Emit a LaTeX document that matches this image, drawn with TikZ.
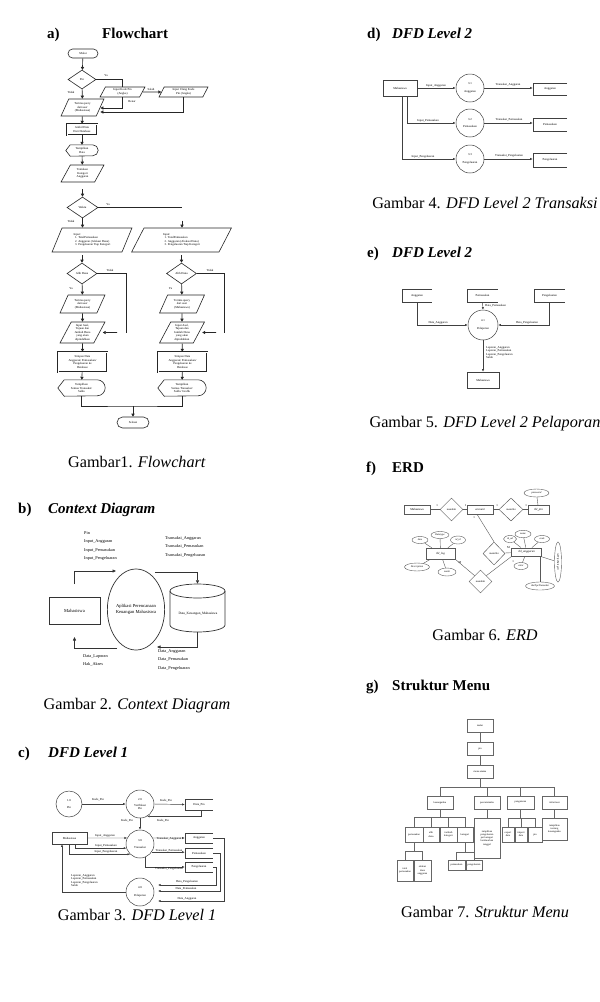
\documentclass[tikz,border=0pt]{standalone}
\usepackage{fontspec}
\setmainfont{Liberation Serif}
\usetikzlibrary{shapes.geometric,arrows.meta}
\newcommand\fcdisp[6]{%
  \node[tx, minimum width=#4pt, minimum height=#5pt] (#1) at (#2,#3) {#6};
  \draw[fcline] ([xshift=#5pt*0.4]#1.north west) -- ([xshift=-#5pt*0.5]#1.north east)
    arc[start angle=90,end angle=-90,radius=#5pt*0.5] -- ([xshift=#5pt*0.4]#1.south west) -- (#1.west) -- cycle;
}
\newcommand\openbox[1]{\draw[dline] (#1.north east) -- (#1.north west) -- (#1.south west) -- (#1.south east);}
\begin{document}
\begin{tikzpicture}[x=1pt,y=-1pt,
  hdr/.style={font=\fontsize{15}{17}\selectfont\bfseries, anchor=base west, inner sep=0},
  captxt/.style={font=\fontsize{16.2}{18}\selectfont, inner sep=0},
  tx/.style={font=\fontsize{3}{3.5}\selectfont, align=center, inner sep=0},
  lbl/.style={font=\fontsize{3}{3.5}\selectfont, inner sep=0},
  fcline/.style={line width=0.6pt, draw=black!85},
  fc/.style={draw=black!85, line width=0.6pt, tx},
  fcterm/.style={fc, rounded corners=4.5pt},
  fcdec/.style={fc, diamond},
  fcio/.style={fc, trapezium, trapezium left angle=65, trapezium right angle=115, trapezium stretches=true},
  fcproc/.style={fc, double, double distance=0.6pt, line width=0.45pt},
  fcarr/.style={line width=0.6pt, draw=black!85, -{Triangle[length=3pt,width=3.2pt]}},
  dline/.style={line width=0.45pt, draw=black!75},
  darr/.style={dline, -{Latex[length=2.6pt,width=2.2pt]}},
  dbox/.style={draw=black!75, line width=0.45pt, tx},
  dcirc/.style={circle, draw=black!75, line width=0.5pt, tx},
  dstore/.style={tx},
  clbl/.style={font=\fontsize{4.3}{8.6}\selectfont, inner sep=0, anchor=north west, align=left},
  eline/.style={line width=0.4pt, draw=black!65},
  ebox/.style={draw=black!65, line width=0.45pt, tx, font=\fontsize{3}{3.5}\selectfont},
  eell/.style={ellipse, draw=black!65, line width=0.4pt, tx, font=\fontsize{2.6}{3}\selectfont},
  edia/.style={diamond, draw=black!65, line width=0.45pt, tx, font=\fontsize{2.6}{3}\selectfont},
  mb/.style={draw=black!60, line width=0.5pt, tx, font=\fontsize{2.6}{3.2}\selectfont},
  mline/.style={line width=0.5pt, draw=black!60}
]
\fill[white] (0,0) rectangle (600,1002);
\useasboundingbox (0,0) rectangle (600,1002);

% ================= headers and captions =================
\node[hdr] (ha1) at (47,38) {a)};
\node[hdr] (ha2) at (102,38) {Flowchart};
\node[hdr] (hb1) at (18,513) {b)};
\node[hdr] (hb2) at (48,513) {\itshape Context Diagram};
\node[hdr] (hc1) at (18,757) {c)};
\node[hdr] (hc2) at (48,757) {\itshape DFD Level 1};
\node[hdr] (hd1) at (367,38) {d)};
\node[hdr] (hd2) at (392,38) {\itshape DFD Level 2};
\node[hdr] (he1) at (367,257) {e)};
\node[hdr] (he2) at (392,257) {\itshape DFD Level 2};
\node[hdr] (hf1) at (366,472) {f)};
\node[hdr] (hf2) at (392,472) {ERD};
\node[hdr] (hg1) at (366,690) {g)};
\node[hdr] (hg2) at (392,690) {Struktur Menu};

\node[captxt] (ca) at (137,462) {Gambar1. \textit{Flowchart}};
\node[captxt] (cb) at (137,706) {Gambar 2. \textit{Context Diagram}};
\node[captxt] (cc) at (137,915) {Gambar 3. \textit{DFD Level 1}};
\node[captxt] (cd) at (485,203) {Gambar 4. \textit{DFD Level 2 Transaksi}};
\node[captxt] (ce) at (485,424) {Gambar 5. \textit{DFD Level 2 Pelaporan}};
\node[captxt] (cf) at (485,635) {Gambar 6. \textit{ERD}};
\node[captxt] (cg) at (485,912) {Gambar 7. \textit{Struktur Menu}};

% ================= a) Flowchart =================
\node[fcterm, minimum width=30pt, minimum height=9pt] (mulai) at (83,53.5) {Mulai};
\node[fcdec, minimum width=28pt, minimum height=19pt] (pin) at (82,79.5) {Pin};
\node[fcio, minimum width=45pt, minimum height=10pt] (kodepin) at (122.5,92) {Input Kode Pin\\(Angka)};
\node[fcio, minimum width=49pt, minimum height=10pt] (ulang) at (183.5,92) {Input Ulang Kode\\Pin (Angka)};
\node[fcio, minimum width=43pt, minimum height=17pt] (terima) at (82.5,107.5) {Terima query\\dari user\\(Mahasiswa)};
\node[fcproc, minimum width=30pt, minimum height=11pt] (ambil) at (82,129.5) {Ambil Data\\Dari Database};
\fcdisp{tampil}{82}{150.5}{32}{11}{Tampilkan\\Data}
\node[fcio, minimum width=43pt, minimum height=17pt] (tentukan) at (82.5,173.5) {Tentukan\\Kategori\\Anggaran};
\node[fcdec, minimum width=31pt, minimum height=21pt] (waktu) at (82.5,207.5) {Waktu};
\node[fcio, minimum width=80pt, minimum height=24pt, align=left] (inL) at (92,240) {Input:\\\ \ 1. TotalPemasukan\\\ \ 2. Anggaran (Alokasi Dana)\\\ \ 3. Pengeluaran Tiap Kategori};
\node[fcio, minimum width=100pt, minimum height=24pt, align=left] (inR) at (181.5,240) {Input:\\\ \ 1. TotalPemasukan\\\ \ 2. Anggaran (Alokasi Dana)\\\ \ 3. Pengeluaran Tiap Kategori};
\node[fcdec, minimum width=30pt, minimum height=21pt] (alihL) at (82,273.5) {Alih Dana};
\node[fcdec, minimum width=30pt, minimum height=21pt] (alihR) at (181.5,273.5) {Alih Dana};
\node[fcio, minimum width=45pt, minimum height=18pt] (terL) at (82.5,304) {Terima query\\dari user\\(Mahasiswa)};
\node[fcio, minimum width=45pt, minimum height=18pt] (terR) at (182,304) {Terima query\\dari user\\(Mahasiswa)};
\node[fcio, minimum width=45pt, minimum height=21pt] (asalL) at (82.5,332.5) {Input Asal,\\Tujuan dan\\Jumlah Dana\\yang akan\\dipindahkan};
\node[fcio, minimum width=45pt, minimum height=21pt] (asalR) at (182,332.5) {Input Asal,\\Tujuan dan\\Jumlah Dana\\yang akan\\dipindahkan};
\node[fcproc, minimum width=49pt, minimum height=20pt] (simL) at (82.5,362) {Simpan Data\\Anggaran/ Pemasukan/\\Pengeluaran ke\\Database};
\node[fcproc, minimum width=49pt, minimum height=20pt] (simR) at (182.5,362) {Simpan Data\\Anggaran/ Pemasukan/\\Pengeluaran ke\\Database};
\fcdisp{tamL}{81.5}{388}{47}{16}{Tampilkan\\Semua Transaksi/\\Saldo}
\fcdisp{tamR}{182}{388}{48}{16}{Tampilkan\\Semua Transaksi/\\Saldo/ Grafik}
\node[fcterm, minimum width=32pt, minimum height=11pt, rounded corners=5.5pt] (selesai) at (133,422.5) {Selesai};

\draw[fcarr] (mulai) -- (pin);
\draw[fcline] (pin.east) -| (kodepin.north);
\node[lbl] (lya1) at (106,76) {Ya};
\draw[fcarr] (pin) -- (terima);
\node[lbl] (ltd1) at (71,92) {Tidak};
\draw[fcarr] (kodepin.east) -- (ulang.west);
\node[lbl] (lsal) at (151,89.5) {Salah};
\draw[fcarr] (kodepin.south) |- (terima.east |- 0,108);
\node[lbl] (lben) at (132,102) {Benar};
\draw[fcarr] (ulang.south) |- (terima.east |- 0,112);
\draw[fcarr] (terima) -- (ambil);
\draw[fcarr] (ambil) -- (tampil);
\draw[fcarr] (tampil) -- (tentukan);
\coordinate (w0) at (82.5,189);
\draw[fcarr] (w0) -- (waktu.north);
\coordinate (wend) at (182,207.5);
\draw[fcline] (waktu.east) -- (wend);
\node[lbl] (lya2) at (108,204.5) {Ya};
\draw[fcarr] (waktu.south) -- (waktu.south |- inL.north);
\node[lbl] (ltd2) at (71,221.5) {Tidak};
\coordinate (w1) at (182,220.5);
\draw[fcarr] (w1) -- (w1 |- inR.north);
\coordinate (w2) at (82,255);
\draw[fcarr] (w2) -- (alihL.north);
\coordinate (w3) at (181.5,255);
\draw[fcarr] (w3) -- (alihR.north);
\draw[fcarr] (alihL) -- (terL);
\draw[fcarr] (alihR) -- (terR);
\node[lbl] (lya3) at (71,288.5) {Ya};
\node[lbl] (lya4) at (170.5,288.5) {Ya};
\draw[fcline] (alihL.east) -- (126,273.5) -- (126,332.5);
\draw[fcline] (alihR.east) -- (224,273.5) -- (224,332.5);
\coordinate (a1) at (117,332.5);
\coordinate (a2) at (216,332.5);
\draw[fcarr] (a1) -- ([xshift=3pt]asalL.east);
\draw[fcarr] (a2) -- ([xshift=3pt]asalR.east);
\node[lbl] (ltd3) at (110,270) {Tidak};
\node[lbl] (ltd4) at (210,270) {Tidak};
\draw[fcarr] (terL) -- (asalL);
\draw[fcarr] (terR) -- (asalR);
\draw[fcarr] (asalL) -- (simL);
\draw[fcarr] (asalR) -- (simR);
\draw[fcarr] (simL) -- (tamL);
\draw[fcarr] (simR) -- (tamR);
\draw[fcline] (tamL.south) |- (133,406) -| (tamR.south);
\draw[fcarr] (133,406) -- (selesai.north);

% ================= b) Context Diagram =================
\node[draw=black!80, line width=0.7pt, minimum width=51pt, minimum height=27pt, inner sep=0, font=\fontsize{4.6}{5.5}\selectfont] (cmhs) at (74.5,610.5) {Mahasiswa};
\node[ellipse, draw=black!80, line width=0.7pt, minimum width=48pt, minimum height=81pt, inner sep=0, align=center, font=\fontsize{4.6}{5.8}\selectfont] (capp) at (136,609.5) {Aplikasi Perencanaan\\Keuangan Mahasiswa};
\node[minimum width=55pt, minimum height=48pt, inner sep=0] (cdb) at (197.5,608) {};
\draw[line width=0.7pt, draw=black!80] (197.5,591) ellipse[x radius=27.5pt, y radius=7pt];
\draw[line width=0.7pt, draw=black!80] (170,591) -- (170,625) arc[start angle=180,end angle=360,x radius=27.5pt,y radius=7pt] -- (225,591);
\node[font=\fontsize{3.4}{4}\selectfont, inner sep=0] (cdbt) at (198,614) {Data\_Keuangan\_Mahasiswa};
\coordinate (cc0) at (74.5,584);
\coordinate (cc1) at (116,571);
\coordinate (cc2) at (155,572);
\coordinate (cc3) at (157,647);
\coordinate (cc4) at (117,648);
\coordinate (cc5) at (74.5,637);
\draw[line width=0.7pt, draw=black!80, -{Triangle[length=3.5pt,width=3pt]}] (cc0) |- (cc1);
\draw[line width=0.7pt, draw=black!80, -{Triangle[length=3.5pt,width=3pt]}] (cc2) -| (cdb.north);
\draw[line width=0.7pt, draw=black!80, -{Triangle[length=3.5pt,width=3pt]}] (cdb.south) |- (cc3);
\draw[line width=0.7pt, draw=black!80, -{Triangle[length=3.5pt,width=3pt]}] (cc4) -| (cc5);
\node[clbl] (cl1) at (84,531) {Pin\\Input\_Anggaran\\Input\_Pemasukan\\Input\_Pengeluaran};
\node[clbl] (cl2) at (165,536) {Transaksi\_Anggaran\\Transaksi\_Pemasukan\\Transaksi\_Pengeluaran};
\node[clbl] (cl3) at (158,649) {Data\_Anggaran\\Data\_Pemasukan\\Data\_Pengeluaran};
\node[clbl] (cl4) at (83,654) {Data\_Laporan\\Hak\_Akses};

% ================= c) DFD Level 1 =================
\node[dcirc, minimum size=26pt] (p1) at (69,804) {1.0\\[4pt]Pin};
\node[dcirc, minimum size=28pt] (p2) at (140,804) {2.0\\[2pt]Verifikasi\\Pin};
\node[dcirc, minimum size=28pt] (p3) at (140,844) {3.0\\[4pt]Transaksi};
\node[dcirc, minimum size=28pt] (p4) at (140,892) {4.0\\[4pt]Pelaporan};
\node[dstore, minimum width=28pt, minimum height=11pt] (dpin) at (199,804.5) {Data\_Pin};
\node[dstore, minimum width=28pt, minimum height=10pt] (sAng) at (199,838) {Anggaran};
\node[dstore, minimum width=28pt, minimum height=10pt] (sPem) at (199,853) {Pemasukan};
\node[dstore, minimum width=28pt, minimum height=10pt] (sPen) at (199,867) {Pengeluaran};
\openbox{dpin}\openbox{sAng}\openbox{sPem}\openbox{sPen}
\node[dbox, minimum width=35pt, minimum height=12pt] (mhs1) at (69.5,838) {Mahasiswa};
\draw[darr] (p1) -- (p2);
\node[lbl] (k1) at (98,800) {Kode\_Pin};
\draw[darr] (p2.east) -- (dpin.west);
\node[lbl] (k2) at (166,801) {Kode\_Pin};
\draw[darr] ([xshift=2pt]dpin.south) |- (p2.-60);
\node[lbl] (k3) at (163,821) {Kode\_Pin};
\node[lbl] (k4) at (127,821) {Kode\_Pin};
\draw[darr] (p2) -- (p3);
\draw[darr] (mhs1.east) -- (p3.155);
\draw[darr] ([xshift=5.5pt]mhs1.south) |- (p3.197);
\draw[darr] ([xshift=-0.5pt]mhs1.south) |- (p3.226);
\node[lbl] (i1) at (105,835.5) {Input\_Anggaran};
\node[lbl] (i2) at (106,845.5) {Input\_Pemasukan};
\node[lbl] (i3) at (106,851.5) {Input\_Pengeluaran};
\draw[darr] (p3.25) -- (sAng.west);
\draw[darr] (p3.-35) -- (p3.-35 -| sPem.west);
\draw[darr] (p3.-70) |- (sPen.west);
\node[lbl] (t1) at (169,838.5) {Transaksi\_Anggaran};
\node[lbl] (t2) at (169,851) {Transaksi\_Pemasukan};
\node[lbl] (t3) at (169,868.5) {Transaksi\_Pengeluaran};
\coordinate (d1) at (158,901);
\coordinate (d2) at (158,891);
\coordinate (d3) at (158,885);
\draw[darr] (sAng.east) -- ++(11,0) |- (d1);
\draw[darr] (sPem.east) -- ++(7,0) |- (d2);
\draw[darr] (sPen.east) -- ++(3,0) |- (d3);
\node[lbl] (dl1) at (187,882) {Data\_Pengeluaran};
\node[lbl] (dl2) at (186,889) {Data\_Pemasukan};
\node[lbl] (dl3) at (187,898.5) {Data\_Anggaran};
\draw[darr] (p4.west) -| ([xshift=-7.5pt]mhs1.south);
\node[lbl, anchor=north west, align=left] (lap) at (71,874) {Laporan\_Anggaran\\Laporan\_Pemasukan\\Laporan\_Pengeluaran\\Saldo};

% ================= d) DFD Level 2 Transaksi =================
\node[dbox, minimum width=34pt, minimum height=16pt] (mhs2) at (400,88) {Mahasiswa};
\node[dcirc, minimum size=28pt] (c31) at (470,88) {3.1\\[4pt]Anggaran};
\node[dcirc, minimum size=28pt] (c32) at (470,123) {3.2\\[4pt]Pemasukan};
\node[dcirc, minimum size=28pt] (c33) at (470,159) {3.3\\[4pt]Pengeluaran};
\node[dstore, minimum width=34pt, minimum height=12pt] (sA2) at (550,89) {Anggaran};
\node[dstore, minimum width=34pt, minimum height=13pt] (sP2) at (550,124.5) {Pemasukan};
\node[dstore, minimum width=34pt, minimum height=14pt] (sG2) at (550,160) {Pengeluaran};
\openbox{sA2}\openbox{sP2}\openbox{sG2}
\draw[darr] (mhs2.east) -- (c31.west);
\draw[darr] ([xshift=7pt]mhs2.south) |- (c32.west);
\draw[darr] ([xshift=2pt]mhs2.south) |- (c33.west);
\node[lbl] (j1) at (436,85.5) {Input\_Anggaran};
\node[lbl] (j2) at (428,120.5) {Input\_Pemasukan};
\node[lbl] (j3) at (423,156.5) {Input\_Pengeluaran};
\draw[darr] (c31.east) -- (c31.east -| sA2.west);
\draw[darr] (c32.east) -- (c32.east -| sP2.west);
\draw[darr] (c33.east) -- (c33.east -| sG2.west);
\node[lbl] (u1) at (508,85) {Transaksi\_Anggaran};
\node[lbl] (u2) at (509,120) {Transaksi\_Pemasukan};
\node[lbl] (u3) at (509,156) {Transaksi\_Pengeluaran};

% ================= e) DFD Level 2 Pelaporan =================
\node[dstore, minimum width=30pt, minimum height=13pt] (sA3) at (417,295.5) {Anggaran};
\node[dstore, minimum width=30pt, minimum height=13pt] (sP3) at (482.5,295.5) {Pemasukan};
\node[dstore, minimum width=30pt, minimum height=13pt] (sG3) at (549.5,295.5) {Pengeluaran};
\openbox{sA3}\openbox{sP3}\openbox{sG3}
\node[dcirc, minimum size=30pt] (c41) at (483,325) {4.1\\[4pt]Pelaporan};
\node[dbox, minimum width=32pt, minimum height=16pt] (mhs3) at (483,380) {Mahasiswa};
\draw[darr] (sA3.south) |- (c41.west);
\draw[darr] (sP3.south) -- (c41.north);
\draw[darr] (sG3.south) |- (c41.east);
\draw[darr] (c41.south) -- (mhs3.north);
\node[lbl] (v1) at (438,322.5) {Data\_Anggaran};
\node[lbl, anchor=west] (v2) at (485,306) {Data\_Pemasukan};
\node[lbl] (v3) at (527,322.5) {Data\_Pengeluaran};
\node[lbl, anchor=north west, align=left] (v4) at (486,346) {Laporan\_Anggaran\\Laporan\_Pemasukan\\Laporan\_Pengeluaran\\Saldo};

% ================= f) ERD =================
\node[ebox, minimum width=26pt, minimum height=9pt] (emhs) at (417,509.5) {Mahasiswa};
\node[edia, minimum width=23pt, minimum height=23pt] (r1) at (451.5,509.5) {memiliki};
\node[ebox, minimum width=26pt, minimum height=9pt] (acc) at (480,509.5) {\itshape account};
\node[edia, minimum width=24pt, minimum height=23pt] (r2) at (511,509.5) {memiliki};
\node[ebox, minimum width=21pt, minimum height=9pt] (epin) at (538.5,509.5) {\itshape tbl\_pin};
\node[eell, minimum width=25pt, minimum height=8pt] (pw) at (536.5,493) {\itshape password};
\node[edia, minimum width=22pt, minimum height=23pt] (r3) at (494,553.5) {memiliki};
\node[ebox, minimum width=30pt, minimum height=8.5pt] (ang) at (526.7,552) {\itshape tbl\_anggaran};
\node[ebox, minimum width=29pt, minimum height=11pt] (tlog) at (440.5,553.5) {\itshape tbl\_log};
\node[edia, minimum width=23pt, minimum height=23pt] (r4) at (480.5,581.5) {memiliki};
\node[eell, minimum width=13pt, minimum height=7pt] (aid) at (510,539) {\itshape id\_ad};
\node[eell, minimum width=16pt, minimum height=7.5pt] (anm) at (523,534) {\itshape name};
\node[eell, minimum width=15pt, minimum height=7pt] (acd) at (542,539) {\itshape code};
\node[eell, minimum width=14pt, minimum height=7pt] (acl) at (521,566) {\itshape color};
\node[eell, minimum width=7pt, minimum height=40pt] (avt) at (558,562) {\rotatebox{-90}{\itshape idxTipeKategori}};
\node[eell, minimum width=29pt, minimum height=8pt] (atp) at (540,586) {\itshape idxTipeTransaksi};
\node[eell, minimum width=16pt, minimum height=7pt] (ltm) at (420,540) {\itshape time};
\node[eell, minimum width=18pt, minimum height=7pt] (ldt) at (440,535) {\itshape Datetype};
\node[eell, minimum width=15pt, minimum height=8pt] (lid) at (458,540) {\itshape id\_id};
\node[eell, minimum width=25pt, minimum height=8pt] (lds) at (417,567) {\itshape Description};
\node[eell, minimum width=18pt, minimum height=8pt] (lnm) at (447,572) {\itshape nomb};
\draw[eline] (emhs) -- (r1);
\draw[eline] (r1) -- (acc);
\draw[eline] (acc) -- (r2);
\draw[eline] (r2) -- (epin);
\draw[eline] (pw) -- (epin);
\draw[eline] ([xshift=-3pt]acc.south) -- (r3.north);
\draw[eline] (r3) -- (ang);
\draw[eline] (tlog.south east) -- (r4.north west);
\draw[eline] (r4.north east) -- (ang.south west);
\draw[eline] (aid) -- (ang);
\draw[eline] (anm) -- (ang);
\draw[eline] (acd) -- (ang);
\draw[eline] (acl) -- (ang);
\draw[eline] (ang) -- (avt);
\draw[eline] (ang.south -| atp.north) -- (atp.north);
\draw[eline] (ltm) -- (tlog);
\draw[eline] (ldt) -- (tlog);
\draw[eline] (lid) -- (tlog);
\draw[eline] (lds) -- (tlog);
\draw[eline] (lnm) -- (tlog);
\node[lbl] (n1) at (437,506) {1};
\node[lbl] (n2) at (465.5,506) {1};
\node[lbl] (n3) at (497,506) {1};
\node[lbl] (n4) at (526,506) {1};
\node[lbl] (n5) at (474,518) {1};
\node[lbl] (n6) at (508.5,548) {M};
\node[lbl] (n7) at (513,562) {1};
\node[lbl] (n8) at (460,563) {M};

% ================= g) Struktur Menu =================
\node[mb, minimum width=26pt, minimum height=13pt] (m0) at (480,725.5) {mulai};
\node[mb, minimum width=26pt, minimum height=13pt] (m1) at (480,748.5) {pin};
\node[mb, minimum width=26pt, minimum height=13pt] (m2) at (480,771.5) {menu utama};
\node[mb, minimum width=26pt, minimum height=13pt] (mk) at (440,802.5) {keuanganku};
\node[mb, minimum width=26pt, minimum height=13pt] (mpc) at (487,802.5) {pencatatanku};
\node[mb, minimum width=27pt, minimum height=13pt] (mpg) at (520.5,802.5) {pengaturan};
\node[mb, minimum width=25pt, minimum height=13pt] (minf) at (554.5,802.5) {informasi};
\node[mb, minimum width=18pt, minimum height=15pt] (mk1) at (414,834.5) {pemasukan};
\node[mb, minimum width=16pt, minimum height=15pt] (mk2) at (431,834.5) {alih\\dana};
\node[mb, minimum width=17pt, minimum height=15pt] (mk3) at (448.5,834.5) {tambah\\kategori};
\node[mb, minimum width=16pt, minimum height=15pt] (mk4) at (465,834.5) {kategori};
\node[mb, minimum width=16pt, minimum height=21pt] (mk11) at (405,870.5) {total\\pemasukan};
\node[mb, minimum width=17pt, minimum height=21pt] (mk12) at (422.5,870.5) {alokasi\\dana\\anggaran};
\node[mb, minimum width=17pt, minimum height=10pt] (mk41) at (456.5,865) {pemasukan};
\node[mb, minimum width=16pt, minimum height=10pt] (mk42) at (474,865) {pengeluaran};
\node[mb, minimum width=26pt, minimum height=40pt] (mpc1) at (487,838) {tampilkan\\pengeluaran\\per kategori\\berdasarkan\\tanggal};
\node[mb, minimum width=12pt, minimum height=15pt] (mpg1) at (508,834.5) {export\\data};
\node[mb, minimum width=12pt, minimum height=15pt] (mpg2) at (521,834.5) {import\\data};
\node[mb, minimum width=14pt, minimum height=15pt] (mpg3) at (535,834.5) {pin};
\node[mb, minimum width=25pt, minimum height=22pt] (minf1) at (554.5,829) {tampilkan\\tentang\\keuanganku};
\draw[mline] (m0) -- (m1);
\draw[mline] (m1) -- (m2);
\draw[mline] (m2.south) -- ++(0,9) -| (mk.north);
\draw[mline] (m2.south) -- ++(0,9) -| (mpc.north);
\draw[mline] (m2.south) -- ++(0,9) -| (mpg.north);
\draw[mline] (m2.south) -- ++(0,9) -| (minf.north);
\draw[mline] (mk.south) -- ++(0,8) -| (mk1.north);
\draw[mline] (mk.south) -- ++(0,8) -| (mk2.north);
\draw[mline] (mk.south) -- ++(0,8) -| (mk3.north);
\draw[mline] (mk.south) -- ++(0,8) -| (mk4.north);
\draw[mline] (mk1.south) -- ++(0,9) -| (mk11.north);
\draw[mline] (mk1.south) -- ++(0,9) -| (mk12.north);
\draw[mline] (mk4.south) -- ++(0,10) -| (mk41.north);
\draw[mline] (mk4.south) -- ++(0,10) -| (mk42.north);
\draw[mline] (mpc) -- (mpc1);
\draw[mline] (mpg.south) -- ++(0,9) -| (mpg1.north);
\draw[mline] (mpg.south) -- ++(0,9) -| (mpg2.north);
\draw[mline] (mpg.south) -- ++(0,9) -| (mpg3.north);
\draw[mline] (minf) -- (minf1);
\end{tikzpicture}
\end{document}
